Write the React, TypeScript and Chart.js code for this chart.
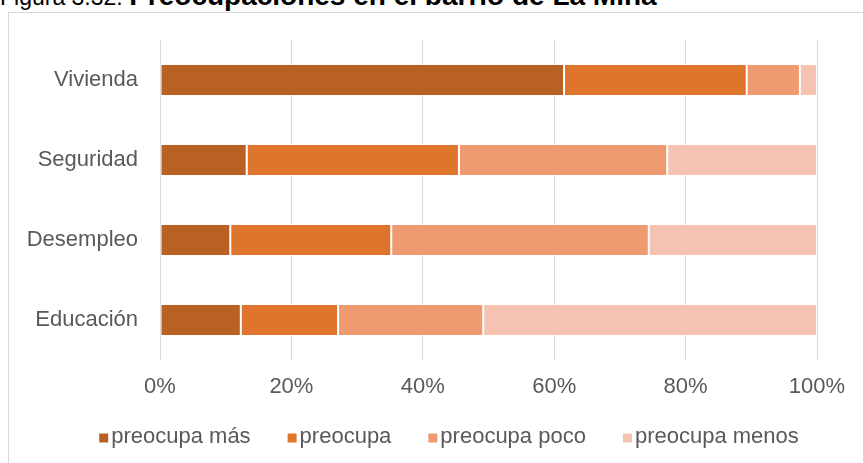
import React, { useEffect, useRef } from "react";
import { Chart, registerables } from "chart.js";

Chart.register(...registerables);

const categories = ["Vivienda", "Seguridad", "Desempleo", "Educación"];
const seriesNames = ["preocupa más", "preocupa", "preocupa poco", "preocupa menos"];
const preocupaMas = [61.5, 13.2, 10.7, 12.3];
const preocupa = [27.8, 32.3, 24.5, 14.8];
const preocupaPoco = [8.1, 31.7, 39.2, 22.1];
const preocupaMenos = [2.6, 22.8, 25.6, 50.8];
const xTicks = [0, 20, 40, 60, 80, 100];
const colors = ["#B96123", "#DF752D", "#F09A72", "#F5C3B2"];

const FONT = "'Liberation Sans', Arial, sans-serif";
const TEXT = "#595959";

const customLegend = {
  id: "customLegend",
  afterDraw(chart: any) {
    const ctx = chart.ctx;
    const size = 22;
    const box = 9;
    const gapText = 3;
    const gapItem = 37;
    const centerX = 449;
    const y = 437;
    ctx.save();
    ctx.font = `${size}px ${FONT}`;
    ctx.textBaseline = "middle";
    ctx.textAlign = "left";
    const items = chart.data.datasets.map((ds: any) => ({
      label: ds.label,
      color: ds.backgroundColor,
      w: ctx.measureText(ds.label).width,
    }));
    const total =
      items.reduce((s: number, it: any) => s + box + gapText + it.w, 0) +
      gapItem * (items.length - 1);
    let x = centerX - total / 2;
    items.forEach((it: any) => {
      ctx.fillStyle = it.color;
      ctx.fillRect(x, y - box / 2 + 1, box, box);
      x += box + gapText;
      ctx.fillStyle = TEXT;
      ctx.fillText(it.label, x, y);
      x += it.w + gapItem;
    });
    ctx.restore();
  },
};

export default function App() {
  const ref = useRef<HTMLCanvasElement | null>(null);

  useEffect(() => {
    const values = [preocupaMas, preocupa, preocupaPoco, preocupaMenos];
    const chart = new Chart(ref.current as HTMLCanvasElement, {
      type: "bar",
      data: {
        labels: categories,
        datasets: seriesNames.map((name, i) => ({
          label: name,
          data: values[i],
          backgroundColor: colors[i],
          borderColor: "rgba(255,255,255,0.22)",
          borderWidth: 1,
          borderSkipped: false,
          barPercentage: 0.4,
          categoryPercentage: 1,
        })),
      },
      plugins: [customLegend],
      options: {
        indexAxis: "y",
        animation: false,
        responsive: false,
        maintainAspectRatio: false,
        layout: { padding: { left: 0, right: 46, top: 40, bottom: 0 } },
        plugins: {
          tooltip: { enabled: false },
          title: { display: false },
          legend: { display: false },
        },
        scales: {
          x: {
            stacked: true,
            min: 0,
            max: 100,
            afterBuildTicks: (scale: any) => {
              scale.ticks = xTicks.map((v) => ({ value: v }));
            },
            afterFit: (scale: any) => {
              scale.height = 103;
            },
            ticks: {
              color: TEXT,
              padding: 14,
              font: { family: FONT, size: 22 },
              callback: (v: any) => v + "%",
            },
            grid: { color: "#D9D9D9", drawTicks: false, lineWidth: 1 },
            border: { display: false },
          },
          y: {
            stacked: true,
            afterFit: (scale: any) => {
              scale.width = 160;
            },
            ticks: {
              color: TEXT,
              padding: 22,
              font: { family: FONT, size: 22 },
            },
            grid: { display: false, drawTicks: false },
            border: { display: false },
          },
        },
      },
    });
    return () => chart.destroy();
  }, []);

  return (
    <div
      style={{
        position: "fixed",
        left: 0,
        top: 0,
        width: 863,
        height: 463,
        overflow: "hidden",
        background: "#fff",
      }}
    >
      <div
        style={{
          position: "absolute",
          left: 0,
          top: -18,
          fontFamily: FONT,
          fontSize: 23,
          lineHeight: "28px",
          color: "#000",
          whiteSpace: "nowrap",
        }}
      >
        Figura 3.32: <b style={{ fontSize: 28 }}>Preocupaciones en el barrio de La Mina</b>
      </div>
      <div
        style={{
          position: "absolute",
          left: 8,
          top: 12,
          width: 918,
          height: 500,
          border: "1px solid #D9D9D9",
          boxSizing: "border-box",
        }}
      />
      <canvas
        ref={ref}
        width={863}
        height={463}
        style={{ position: "absolute", left: 0, top: 0, width: 863, height: 463 }}
      />
    </div>
  );
}
